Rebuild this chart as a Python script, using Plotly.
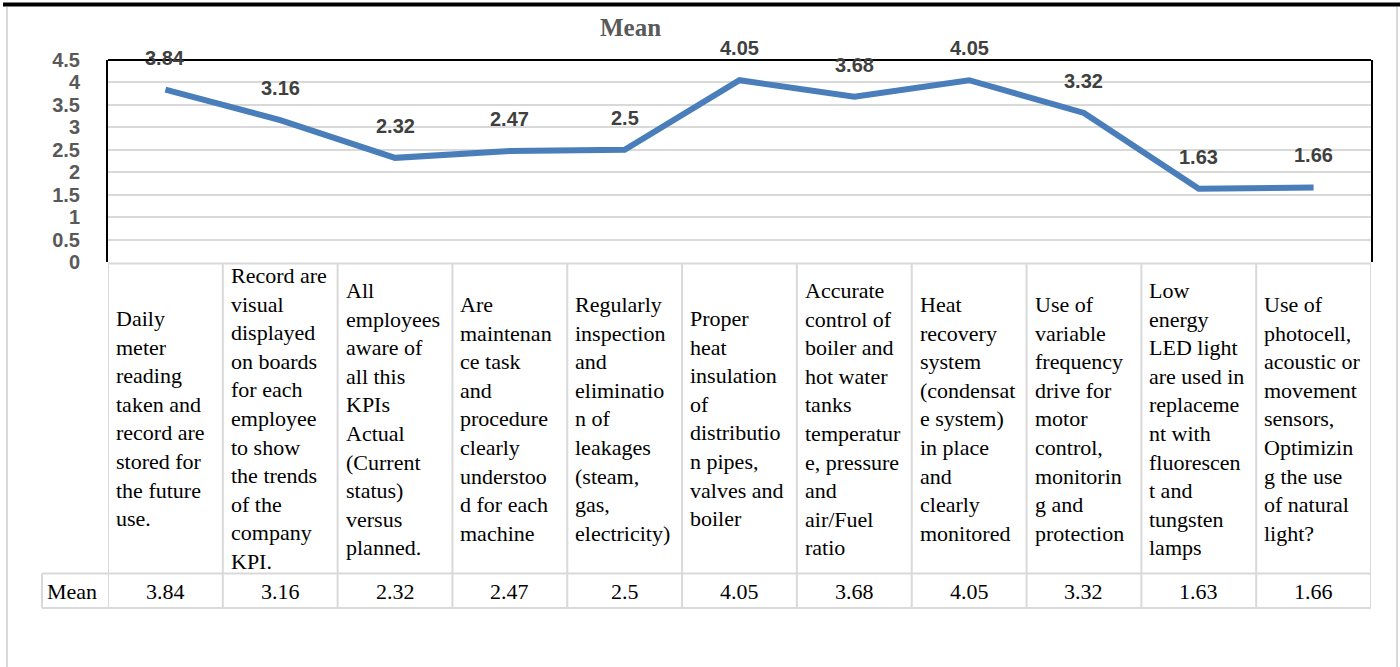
import plotly.graph_objects as go

categories = [
    "Daily<br>meter<br>reading<br>taken and<br>record are<br>stored for<br>the future<br>use.",
    "Record are<br>visual<br>displayed<br>on boards<br>for each<br>employee<br>to show<br>the trends<br>of the<br>company<br>KPI.",
    "All<br>employees<br>aware of<br>all this<br>KPIs<br>Actual<br>(Current<br>status)<br>versus<br>planned.",
    "Are<br>maintenan<br>ce task<br>and<br>procedure<br>clearly<br>understoo<br>d for each<br>machine",
    "Regularly<br>inspection<br>and<br>eliminatio<br>n of<br>leakages<br>(steam,<br>gas,<br>electricity)",
    "Proper<br>heat<br>insulation<br>of<br>distributio<br>n pipes,<br>valves and<br>boiler",
    "Accurate<br>control of<br>boiler and<br>hot water<br>tanks<br>temperatur<br>e, pressure<br>and<br>air/Fuel<br>ratio",
    "Heat<br>recovery<br>system<br>(condensat<br>e system)<br>in place<br>and<br>clearly<br>monitored",
    "Use of<br>variable<br>frequency<br>drive for<br>motor<br>control,<br>monitorin<br>g and<br>protection",
    "Low<br>energy<br>LED light<br>are used in<br>replaceme<br>nt with<br>fluorescen<br>t and<br>tungsten<br>lamps",
    "Use of<br>photocell,<br>acoustic or<br>movement<br>sensors,<br>Optimizin<br>g the use<br>of natural<br>light?",
]
mean_values = [3.84, 3.16, 2.32, 2.47, 2.5, 4.05, 3.68, 4.05, 3.32, 1.63, 1.66]
value_labels = ["3.84", "3.16", "2.32", "2.47", "2.5", "4.05", "3.68", "4.05", "3.32", "1.63", "1.66"]
y_ticks = [0, 0.5, 1, 1.5, 2, 2.5, 3, 3.5, 4, 4.5]
y_tick_text = ["0", "0.5", "1", "1.5", "2", "2.5", "3", "3.5", "4", "4.5"]
series_name = "Mean"

W, H = 1400, 667
L, R, T, B = 108, 1371, 60, 262  # plot area in pixels


def py(p):
    return (B - p) / (B - T)


def px(p):
    return (p - L) / (R - L)


xs = list(range(len(categories)))

fig = go.Figure()
fig.add_trace(go.Scatter(
    x=xs, y=mean_values, mode="lines",
    line=dict(color="#4a7ebb", width=6),
    hoverinfo="skip", showlegend=False,
))

annotations = []
# data labels
for x, v, t in zip(xs, mean_values, value_labels):
    annotations.append(dict(
        x=x, y=v, xref="x", yref="y", text=t, showarrow=False,
        yshift=32, font=dict(family="Liberation Sans", size=20, color="#404040", weight="bold"),
    ))

# table header cells
grid_col = "#d9d9d9"
for x, c in zip(xs, categories):
    annotations.append(dict(
        x=x - 0.5, y=py(418.5), xref="x", yref="paper", text=c, showarrow=False,
        xanchor="left", yanchor="middle", align="left", xshift=6,
        font=dict(family="Liberation Serif", size=22, color="#000000"),
    ))
# table value cells
for x, t in zip(xs, value_labels):
    annotations.append(dict(
        x=x, y=py(591), xref="x", yref="paper", text=t, showarrow=False,
        xanchor="center", yanchor="middle",
        font=dict(family="Liberation Serif", size=22, color="#000000"),
    ))
annotations.append(dict(
    x=px(45), y=py(591), xref="paper", yref="paper", text=series_name, showarrow=False,
    xanchor="left", yanchor="middle",
    font=dict(family="Liberation Serif", size=22, color="#000000"),
))
# chart title
annotations.append(dict(
    x=px(630), y=py(27), xref="paper", yref="paper", text=series_name, showarrow=False,
    xanchor="center", yanchor="middle",
    font=dict(family="Liberation Serif", size=25, color="#595959", weight="bold"),
))

shapes = []
# table borders
shapes.append(dict(type="line", xref="paper", yref="paper", x0=0, x1=1, y0=py(263.5), y1=py(263.5),
                   line=dict(color=grid_col, width=2)))
shapes.append(dict(type="line", xref="paper", yref="paper", x0=px(42), x1=1, y0=py(573.5), y1=py(573.5),
                   line=dict(color=grid_col, width=2)))
shapes.append(dict(type="line", xref="paper", yref="paper", x0=px(42), x1=1, y0=py(608), y1=py(608),
                   line=dict(color=grid_col, width=2)))
shapes.append(dict(type="line", xref="paper", yref="paper", x0=px(42), x1=px(42), y0=py(573.5), y1=py(608),
                   line=dict(color=grid_col, width=2)))
for i in range(len(categories) + 1):
    shapes.append(dict(type="line", xref="x", yref="paper", x0=i - 0.5, x1=i - 0.5,
                       y0=py(263.5), y1=py(608), line=dict(color=grid_col, width=2)))
# plot frame: top black line
shapes.append(dict(type="line", xref="paper", yref="paper", x0=0, x1=1, y0=1, y1=1,
                   line=dict(color="#000000", width=2)))
# page decorations
shapes.append(dict(type="line", xref="paper", yref="paper", x0=px(3), x1=px(1400), y0=py(4.5), y1=py(4.5),
                   line=dict(color="#000000", width=4)))
shapes.append(dict(type="line", xref="paper", yref="paper", x0=px(7), x1=px(7), y0=py(7), y1=py(667),
                   line=dict(color="#d9d9d9", width=2)))
shapes.append(dict(type="line", xref="paper", yref="paper", x0=px(1397), x1=px(1397), y0=py(7), y1=py(667),
                   line=dict(color="#d9d9d9", width=2)))

fig.update_layout(
    width=W, height=H, autosize=False,
    margin=dict(l=L, r=W - R, t=T, b=H - B, pad=0),
    paper_bgcolor="white", plot_bgcolor="white",
    showlegend=False,
    xaxis=dict(range=[-0.5, len(categories) - 0.5], showticklabels=False, showgrid=False,
               zeroline=False, showline=False, fixedrange=True),
    yaxis=dict(range=[0, 4.5], tickvals=y_ticks, ticktext=y_tick_text,
               showgrid=True, gridcolor="#d9d9d9", gridwidth=2, zeroline=False,
               showline=True, linecolor="#000000", linewidth=2, mirror=True,
               ticks="", ticklabelstandoff=22,
               tickfont=dict(family="Liberation Sans", size=20, color="#595959", weight="bold"),
               fixedrange=True),
    annotations=annotations,
    shapes=shapes,
)

fig.write_html("out.html", config={"displayModeBar": False},
               post_script="document.body.style.margin='0';document.body.style.overflow='hidden';")
